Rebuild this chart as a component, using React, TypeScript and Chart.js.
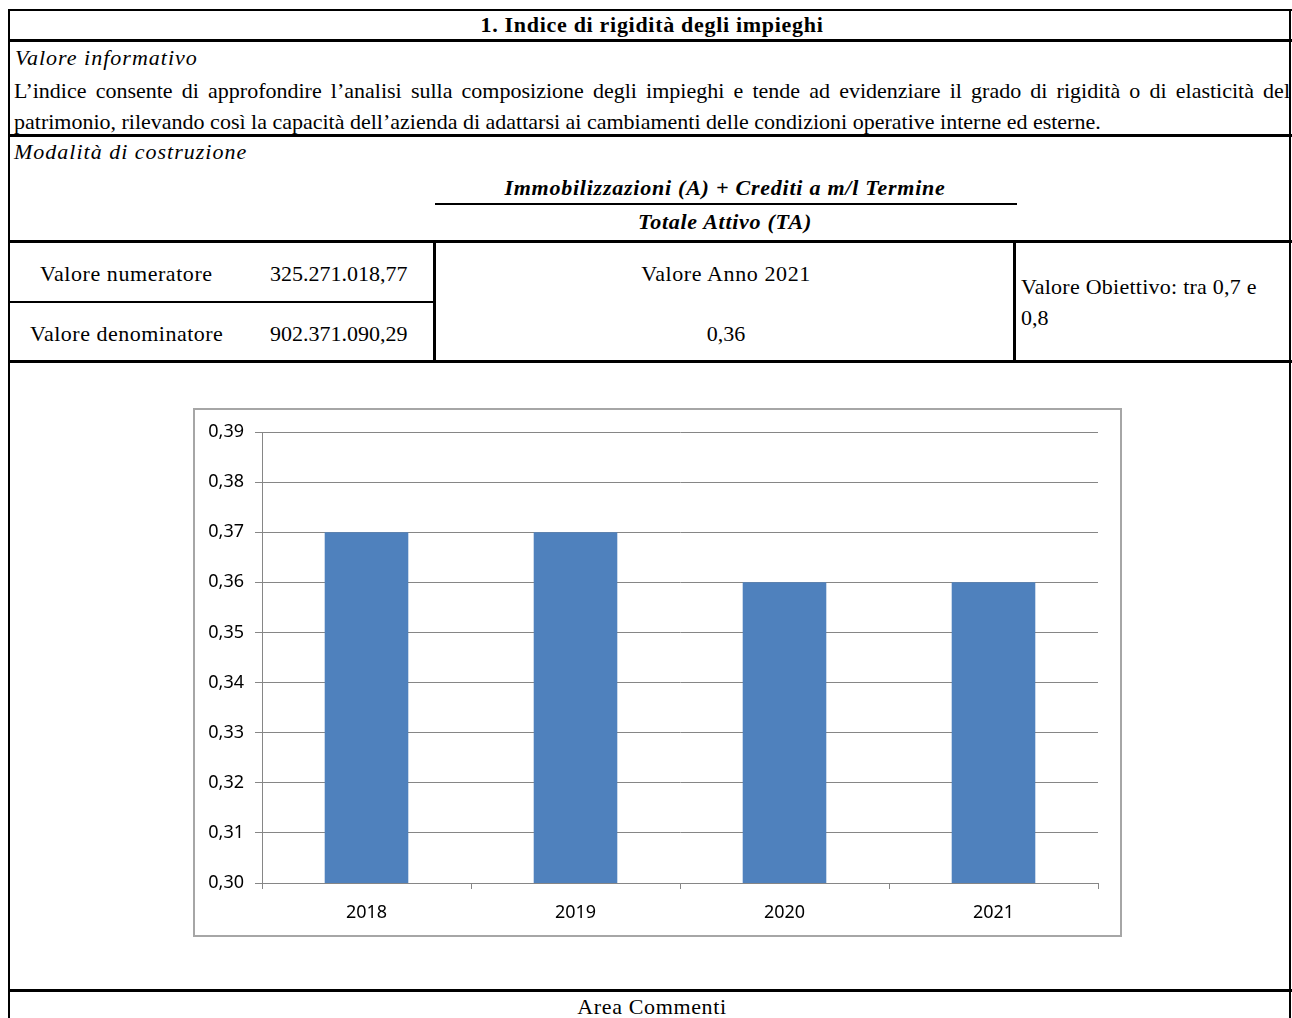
import React, { useEffect, useRef } from "react";
import { Chart, registerables } from "chart.js";

Chart.register(...registerables);

const categories = ["2018", "2019", "2020", "2021"];
const seriesValues = [0.37, 0.37, 0.36, 0.36];
const yTicks = [0.3, 0.31, 0.32, 0.33, 0.34, 0.35, 0.36, 0.37, 0.38, 0.39];

const SERIF = '"Liberation Serif", "Times New Roman", serif';

type TProps = {
  x: number;
  y: number;
  size?: number;
  ls?: number;
  bold?: boolean;
  italic?: boolean;
  center?: boolean;
  width?: number;
  justify?: boolean;
  children: React.ReactNode;
};

function T({ x, y, size = 22, ls = 0, bold, italic, center, width, justify, children }: TProps) {
  const lh = 30;
  const style: React.CSSProperties = {
    position: "absolute",
    top: y - lh / 2,
    lineHeight: lh + "px",
    fontFamily: SERIF,
    fontSize: size,
    letterSpacing: ls ? ls + "px" : undefined,
    fontWeight: bold ? 700 : 400,
    fontStyle: italic ? "italic" : "normal",
    color: "#000",
    whiteSpace: "nowrap",
  };
  if (center) {
    style.left = x - 400;
    style.width = 800;
    style.textAlign = "center";
  } else {
    style.left = x;
  }
  if (justify && width) {
    style.width = width;
    style.textAlign = "justify";
    (style as any).textAlignLast = "justify";
    style.whiteSpace = "normal";
    style.overflow = "hidden";
    style.height = lh;
  }
  return <div style={style}>{children}</div>;
}

function HL({ x1, x2, y, w = 2 }: { x1: number; x2: number; y: number; w?: number }) {
  return <div style={{ position: "absolute", left: x1, top: y, width: x2 - x1, height: w, background: "#000" }} />;
}
function VL({ x, y1, y2, w = 2 }: { x: number; y1: number; y2: number; w?: number }) {
  return <div style={{ position: "absolute", left: x, top: y1, width: w, height: y2 - y1, background: "#000" }} />;
}

function BarChart() {
  const ref = useRef<HTMLCanvasElement>(null);
  useEffect(() => {
    if (!ref.current) return;
    const tickFont = { family: '"Noto Sans", sans-serif', size: 18 };
    const chart = new Chart(ref.current, {
      type: "bar",
      data: {
        labels: categories,
        datasets: [
          {
            data: seriesValues,
            backgroundColor: "#4F81BD",
            barPercentage: 0.4,
            categoryPercentage: 1,
          },
        ],
      },
      options: {
        animation: false,
        responsive: false,
        layout: { padding: { top: 22, right: 22, left: 0, bottom: 0 } },
        plugins: { legend: { display: false }, tooltip: { enabled: false } },
        scales: {
          y: {
            min: 0.3,
            max: 0.39,
            afterBuildTicks: (s: any) => {
              s.ticks = yTicks.map((v) => ({ value: v }));
            },
            afterFit: (s: any) => {
              s.width = 67;
            },
            ticks: {
              color: "#000",
              font: tickFont,
              padding: 11,
              callback: (v: any) => Number(v).toFixed(2).replace(".", ","),
            },
            grid: { color: "#868686", lineWidth: 1, tickLength: 7, drawTicks: true },
            border: { display: true, color: "#868686", width: 1 },
          },
          x: {
            offset: true,
            afterFit: (s: any) => {
              s.height = 52;
            },
            ticks: { color: "#000", font: tickFont, padding: 13 },
            grid: {
              display: true,
              drawOnChartArea: false,
              drawTicks: true,
              tickLength: 6,
              color: "#868686",
              offset: true,
            },
            border: { display: true, color: "#868686", width: 1 },
          },
        },
      },
    });
    return () => chart.destroy();
  }, []);
  return <canvas ref={ref} width={925} height={525} style={{ display: "block", width: 925, height: 525 }} />;
}

export default function App() {
  return (
    <div style={{ position: "absolute", left: 0, top: 0, width: 1292, height: 1018, overflow: "hidden", background: "#fff" }}>
      {/* frame lines */}
      <HL x1={8} x2={1292} y={9} w={2} />
      <HL x1={8} x2={1292} y={39} w={3} />
      <HL x1={8} x2={1292} y={134} w={3} />
      <HL x1={8} x2={1292} y={240} w={3} />
      <HL x1={8} x2={435} y={301} w={2} />
      <HL x1={8} x2={1292} y={360} w={3} />
      <HL x1={8} x2={1292} y={989} w={3} />
      <VL x={8} y1={9} y2={1018} w={2} />
      <VL x={1289} y1={9} y2={1018} w={2} />
      <VL x={433} y1={240} y2={362} w={3} />
      <VL x={1013} y1={240} y2={362} w={3} />
      <HL x1={435} x2={1017} y={203} w={1.5} />

      {/* texts */}
      <T x={652} y={25} bold center ls={0.7}>1. Indice di rigidità degli impieghi</T>
      <T x={15} y={58} italic ls={1.0}>Valore informativo</T>
      <T x={14} y={91} width={1276} justify>
        L’indice consente di approfondire l’analisi sulla composizione degli impieghi e tende ad evidenziare il grado di rigidità o di elasticità del
      </T>
      <T x={14} y={122}>
        patrimonio, rilevando così la capacità dell’azienda di adattarsi ai cambiamenti delle condizioni operative interne ed esterne.
      </T>
      <T x={14} y={152} italic ls={1.0}>Modalità di costruzione</T>
      <T x={725} y={188} bold italic center ls={0.76}>Immobilizzazioni (A) + Crediti a m/l Termine</T>
      <T x={725} y={222} bold italic center ls={0.72}>Totale Attivo (TA)</T>

      <T x={40} y={274} ls={0.56}>Valore numeratore</T>
      <T x={270} y={274}>325.271.018,77</T>
      <T x={30} y={334} ls={0.5}>Valore denominatore</T>
      <T x={270} y={334}>902.371.090,29</T>
      <T x={726} y={274} center ls={0.6}>Valore Anno 2021</T>
      <T x={726} y={334} center>0,36</T>
      <T x={1021} y={287} ls={0.25}>Valore Obiettivo: tra 0,7 e</T>
      <T x={1021} y={318}>0,8</T>
      <T x={652} y={1007} center ls={0.65}>Area Commenti</T>

      {/* chart box */}
      <div
        style={{
          position: "absolute",
          left: 193,
          top: 408,
          width: 925,
          height: 525,
          border: "2px solid #a6a6a6",
          background: "#fff",
        }}
      >
        <BarChart />
      </div>
    </div>
  );
}
